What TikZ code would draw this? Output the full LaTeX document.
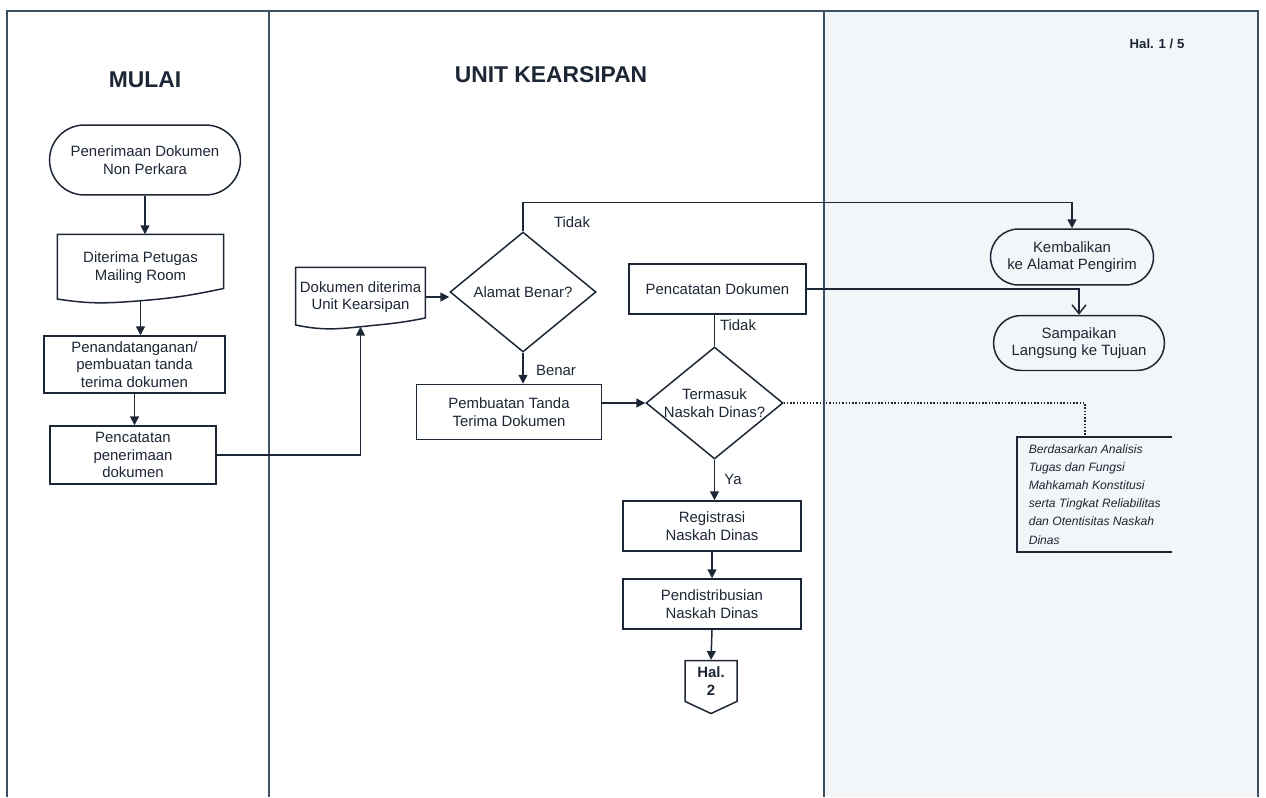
\documentclass[tikz,border=0pt]{standalone}
\usepackage{fontspec}
\setmainfont{Liberation Sans}
\usetikzlibrary{shapes.geometric,shapes.misc,shapes.symbols,arrows.meta}
\definecolor{ink}{RGB}{28,38,52}
\definecolor{lane}{RGB}{60,80,100}
\definecolor{pale}{RGB}{243,246,249}

\begin{document}
\begin{tikzpicture}[x=0.02cm, y=-0.02cm, line width=0.85pt, color=ink,
  box_font/.style={font=\fontsize{8.5}{10}\selectfont},
  proc_node/.style={rectangle,draw,box_font,align=center,inner sep=2pt},
  term_node/.style={rounded rectangle,draw,box_font,align=center,inner sep=2pt},
  doc_node/.style={rectangle,box_font,align=center,inner sep=2pt},
  dec_node/.style={diamond,draw,box_font,align=center,inner sep=0pt,aspect=1.22},
  lbl_node/.style={box_font},
  title_node/.style={font=\bfseries\fontsize{13}{15}\selectfont},
  note_text/.style={font=\fontsize{6.9}{10.3}\selectfont\itshape,align=left,inner xsep=0.22cm,inner ysep=4pt},
  flow/.style={-{Triangle[length=5pt,width=5pt]}}]

    \useasboundingbox (0,0) rectangle (1266,797);

    % lanes
    \fill[pale] (824,11) rectangle (1258,797);
    \draw[lane, line width=0.7pt] (7,797) -- (7,11) -- (1258,11) -- (1258,797);
    \draw[lane, line width=0.7pt] (269,11) -- (269,797);
    \draw[lane, line width=0.7pt] (824,11) -- (824,797);

    \node[title_node] (mulai) at (145,80) {MULAI};
    \node[title_node] (unit) at (551,75) {UNIT KEARSIPAN};
    \node[font=\bfseries\fontsize{7.5}{9}\selectfont] (page) at (1157,44) {Hal. 1 / 5};

    % left lane
    \node[term_node, minimum width=3.96cm, minimum height=1.4cm] (start) at (145,160) {Penerimaan Dokumen\\Non Perkara};
    \node[doc_node, minimum width=3.3cm, minimum height=1.3cm] (recv) at (140.5,267.5) {Diterima Petugas\\Mailing Room};
    \node[proc_node, minimum width=3.62cm, minimum height=1.14cm] (sign) at (134.5,364.5) {Penandatanganan/\\pembuatan tanda\\terima dokumen};
    \node[proc_node, minimum width=3.32cm, minimum height=1.16cm] (log1) at (133,455) {Pencatatan\\penerimaan\\dokumen};

    % middle lane
    \node[doc_node, minimum width=2.54cm, minimum height=1.16cm] (doc2) at (360.5,297) {Dokumen diterima\\Unit Kearsipan};
    \node[dec_node, minimum width=2.92cm, minimum height=2.4cm] (dia1) at (523,292) {Alamat Benar?};
    \node[proc_node, minimum width=3.7cm, minimum height=1.1cm] (make) at (509,412) {Pembuatan Tanda\\Terima Dokumen};
    \node[proc_node, minimum width=3.54cm, minimum height=1.0cm] (log2) at (717.5,289) {Pencatatan Dokumen};
    \node[dec_node, minimum width=2.74cm, minimum height=2.24cm] (dia2) at (714.5,403) {Termasuk\\Naskah Dinas?};
    \node[proc_node, minimum width=3.56cm, minimum height=1.0cm] (reg) at (712,526) {Registrasi\\Naskah Dinas};
    \node[proc_node, minimum width=3.56cm, minimum height=1.0cm] (dist) at (712,604) {Pendistribusian\\Naskah Dinas};
    \node[signal, draw, signal to=south, signal pointer angle=130, minimum width=1.04cm, minimum height=0.96cm, inner sep=1pt, font=\bfseries\fontsize{8.5}{10}\selectfont, align=center] (hal2) at (711,681) {Hal.\\2};

    % right lane
    \node[term_node, minimum width=3.4cm, minimum height=1.12cm] (kemb) at (1072,257) {Kembalikan\\ke Alamat Pengirim};
    \node[term_node, minimum width=3.56cm, minimum height=1.1cm] (samp) at (1079,343) {Sampaikan\\Langsung ke Tujuan};
    \node[note_text, anchor=north west] (note) at (1017,437) {Berdasarkan Analisis\\Tugas dan Fungsi\\Mahkamah Konstitusi\\serta Tingkat Reliabilitas\\dan Otentisitas Naskah\\Dinas};

    \node[lbl_node] (t1) at (572,222) {Tidak};
    \node[lbl_node] (b1) at (556,370) {Benar};
    \node[lbl_node] (t2) at (738,325) {Tidak};
    \node[lbl_node] (y1) at (733,479) {Ya};

    % document outlines
    \draw (recv.south) .. controls +(-0.66cm,-1.5pt) and +(0.66cm,-3pt) .. ([yshift=1pt]recv.south west) -- (recv.north west) -- (recv.north east) -- ([yshift=7pt]recv.south east) .. controls +(-0.66cm,-4pt) and +(0.66cm,1.5pt) .. (recv.south);
    \draw (doc2.south) .. controls +(-0.5cm,-1.5pt) and +(0.5cm,-3pt) .. ([yshift=1pt]doc2.south west) -- (doc2.north west) -- (doc2.north east) -- ([yshift=5pt]doc2.south east) .. controls +(-0.5cm,-3pt) and +(0.5cm,1.5pt) .. (doc2.south);
    \draw (note.north east) -- (note.north west) -- (note.south west) -- (note.south east);

    \draw[flow] (start.south) -- (start.south |- recv.north);
    \draw[flow] (recv.south) -- (recv.south |- sign.north);
    \draw[flow] (sign.south) -- (sign.south |- log1.north);
    \draw[flow] (log1.east) -| (doc2.south);
    \draw[flow] (doc2.east) -- (doc2.east -| dia1.west);
    \draw[flow] (dia1.north) -- ++(0,-29) -| (kemb.north);
    \draw[flow] (dia1.south) -- (dia1.south |- make.north);
    \draw[flow] (make.east |- dia2.west) -- (dia2.west);
    \draw (dia2.north) -- (dia2.north |- log2.south);
    \draw[-{Straight Barb[length=5pt,width=8pt]}] (log2.east) -| (samp.north);
    \draw[flow] (dia2.south) -- (dia2.south |- reg.north);
    \draw[flow] (reg.south) -- (dist.north);
    \draw[flow] (dist.south) -- (hal2.north);
    \draw[densely dotted] (dia2.east) -| ([xshift=1.36cm]note.north west);
\end{tikzpicture}
\end{document}
